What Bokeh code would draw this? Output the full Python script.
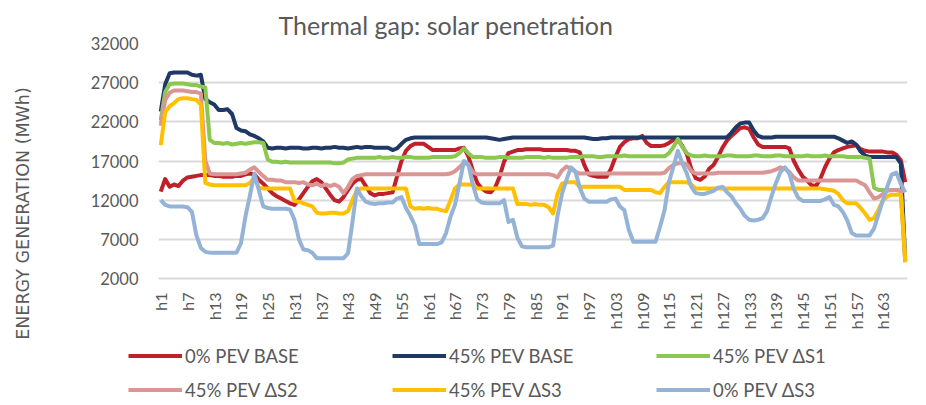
import math
from bokeh.plotting import figure
from bokeh.layouts import row, column
from bokeh.models import Range1d, FixedTicker, Legend, LegendItem, Label
from bokeh.embed import file_html
from bokeh.resources import INLINE

title_text = "Thermal gap: solar penetration"
y_title = "ENERGY GENERATION (MWh)"

hours = list(range(1, 169))
x_tick_hours = list(range(1, 169, 6))
x_tick_labels = ["h1", "h7", "h13", "h19", "h25", "h31", "h37", "h43", "h49", "h55",
                 "h61", "h67", "h73", "h79", "h85", "h91", "h97", "h103", "h109", "h115",
                 "h121", "h127", "h133", "h139", "h145", "h151", "h157", "h163"]
y_ticks = [2000, 7000, 12000, 17000, 22000, 27000, 32000]
y_tick_labels = ["2000", "7000", "12000", "17000", "22000", "27000", "32000"]

series_names = ["0% PEV BASE", "45% PEV BASE", "45% PEV ΔS1",
                "45% PEV ΔS2", "45% PEV ΔS3", "0% PEV ΔS3"]
series_colors = ["#C0202A", "#1F3864", "#8CC850", "#DA9694", "#FFC000", "#95B3D7"]

pev0_base = [
    13100, 14700, 13700, 14000, 13800, 14500, 14900, 15000, 15100, 15200, 15200, 15200,
    15100, 15100, 15000, 15000, 15000, 15100, 15100, 15300, 15400, 15300, 14600, 14100,
    13500, 12900, 12500, 12200, 11900, 11600, 11400, 12100, 12900, 13700, 14400, 14700,
    14300, 13500, 12700, 12000, 11800, 12400, 13300, 14100, 14600, 14700, 13800, 12900,
    12600, 12800, 12800, 12900, 13000, 15000, 17000, 18300, 18900, 19200, 19200, 19200,
    18800, 18400, 18400, 18400, 18400, 18400, 18400, 18600, 18700, 17600, 15800, 14200,
    13500, 13100, 13000, 13600, 15000, 16900, 18000, 18200, 18400, 18400, 18500, 18500,
    18500, 18500, 18400, 18400, 18400, 18400, 18400, 18400, 18300, 18300, 18100, 16500,
    15300, 15100, 15000, 15000, 15000, 16000, 17500, 18800, 19400, 19800, 19900, 19900,
    20200, 19300, 18900, 18900, 18900, 19000, 19300, 19700, 19800, 18900, 17900, 16000,
    14800, 14600, 15000, 16000, 16500, 17500, 18700, 19600, 20200, 20700, 21200, 21300,
    21100, 20000, 19100, 18800, 18800, 18800, 18800, 18800, 18800, 18600, 17000, 15900,
    15000, 14500, 13900, 13800, 14800, 16200, 17300, 18100, 18400, 18600, 18800, 18900,
    19000, 18500, 18300, 18200, 18200, 18200, 18200, 18100, 18100, 17800, 17100, 14300,
]

pev45_base = [
    23300, 26800, 28200, 28300, 28300, 28300, 28300, 28000, 27900, 28000, 24900, 24500,
    24200, 23500, 23500, 23600, 23000, 21200, 20900, 20800, 20400, 20200, 19900, 19500,
    18700, 18600, 18700, 18700, 18600, 18700, 18700, 18700, 18600, 18600, 18700, 18700,
    18600, 18700, 18700, 18800, 18700, 18700, 18600, 18700, 18800, 18700, 18800, 18800,
    18700, 18700, 18700, 18700, 18400, 18600, 19200, 19700, 19900, 20000, 20000, 20000,
    20000, 20000, 20000, 20000, 20000, 20000, 20000, 20000, 20000, 20000, 20000, 20000,
    20000, 20000, 19900, 19800, 19700, 19800, 19900, 20000, 20000, 20000, 20000, 20000,
    20000, 20000, 20000, 20000, 20000, 20000, 20000, 20000, 20000, 20000, 20000, 20000,
    19900, 19800, 19800, 19900, 19900, 20000, 20000, 20000, 20000, 20000, 20000, 20000,
    20000, 20000, 20000, 20000, 20000, 20000, 20000, 20000, 20000, 20000, 20000, 20000,
    20000, 20000, 20000, 20000, 20000, 20000, 20000, 20000, 20600, 21300, 21800, 21900,
    21900, 20900, 20200, 20000, 20000, 20000, 20100, 20100, 20100, 20100, 20100, 20100,
    20100, 20100, 20100, 20100, 20100, 20100, 20100, 20100, 19900, 19600, 19300, 19500,
    19100, 18200, 17700, 17500, 17500, 17500, 17500, 17500, 17500, 17500, 16700, 4300,
]

pev45_s1 = [
    22200, 25800, 26800, 26900, 26900, 26900, 26800, 26700, 26700, 26500, 26400, 19700,
    19300, 19300, 19200, 19300, 19100, 19200, 19300, 19200, 19300, 19400, 19400, 19300,
    17200, 16900, 16900, 16800, 16900, 16800, 16800, 16800, 16800, 16800, 16800, 16800,
    16800, 16800, 16800, 16700, 16700, 16800, 17200, 17300, 17400, 17400, 17400, 17400,
    17400, 17500, 17400, 17400, 17500, 17400, 17400, 17500, 17500, 17400, 17400, 17400,
    17400, 17500, 17500, 17500, 17500, 17500, 17600, 18000, 18600, 18000, 17500, 17500,
    17500, 17400, 17400, 17400, 17500, 17500, 17400, 17400, 17400, 17400, 17500, 17500,
    17500, 17500, 17400, 17500, 17400, 17400, 17400, 17400, 17500, 17500, 17500, 17600,
    17600, 17600, 17500, 17500, 17600, 17600, 17600, 17600, 17700, 17600, 17600, 17600,
    17600, 17600, 17600, 17600, 17600, 17600, 18000, 18800, 19800, 18800, 18000, 17700,
    17600, 17600, 17700, 17600, 17600, 17600, 17600, 17700, 17700, 17600, 17600, 17600,
    17600, 17700, 17700, 17600, 17600, 17600, 17700, 17700, 17600, 17600, 17600, 17600,
    17600, 17700, 17600, 17600, 17600, 17700, 17600, 17600, 17600, 17600, 17500, 17500,
    17500, 17500, 17400, 17300, 13600, 13300, 13300, 13300, 13300, 13300, 13200, 4100,
]

pev45_s2 = [
    21500, 24800, 25700, 26000, 26000, 26000, 25900, 25800, 25800, 25600, 17000, 15400,
    15300, 15300, 15300, 15300, 15300, 15300, 15400, 15500, 15900, 16200, 15600, 15100,
    14600, 14600, 14500, 14500, 14300, 14300, 14300, 14200, 14300, 14000, 13900, 14100,
    13800, 14000, 13800, 14000, 13700, 12900, 13700, 14700, 15100, 15200, 15300, 15300,
    15300, 15300, 15300, 15300, 15300, 15300, 15300, 15300, 15300, 15300, 15300, 15300,
    15300, 15300, 15300, 15300, 15300, 15400, 15700, 16200, 16800, 16500, 15600, 15300,
    15300, 15300, 15300, 15300, 15300, 15300, 15300, 15300, 15300, 15300, 15300, 15300,
    15300, 15300, 15300, 15300, 15200, 14900, 15800, 16300, 16000, 15600, 15400, 15400,
    15400, 15400, 15400, 15400, 15400, 15400, 15400, 15400, 15400, 15400, 15400, 15400,
    15400, 15400, 15400, 15400, 15400, 15500, 16100, 16500, 16700, 16700, 16600, 15700,
    15400, 15400, 15400, 15400, 15400, 15500, 15500, 15500, 15500, 15500, 15500, 15500,
    15500, 15500, 15500, 15500, 15600, 15700, 15900, 16200, 16000, 15600, 14900, 14500,
    14500, 14500, 14500, 14500, 14500, 14500, 14500, 14500, 14500, 14500, 14500, 14500,
    14500, 14200, 13900, 13000, 12200, 12400, 12800, 13200, 13300, 13300, 13200, 4100,
]

pev45_s3 = [
    19000, 23200, 24000, 24400, 24900, 25000, 25000, 24900, 24800, 24200, 14200, 14000,
    13900, 13900, 13900, 13900, 13900, 13900, 13900, 13900, 14200, 14800, 13600, 13500,
    13500, 13500, 13500, 13500, 13500, 13500, 11900, 11800, 11600, 11400, 11200, 10400,
    10300, 10300, 10400, 10400, 10300, 10300, 10600, 12000, 13300, 13500, 13500, 13500,
    13500, 13500, 13500, 13500, 13500, 13500, 13500, 13500, 11200, 10900, 11000, 10900,
    11000, 10900, 10900, 10700, 10600, 12000, 13500, 14000, 14000, 14000, 14000, 13500,
    13500, 13500, 13500, 13500, 13500, 13500, 13500, 13500, 11500, 11500, 11500, 11400,
    11500, 11400, 11400, 11100, 10300, 12800, 14100, 14300, 14300, 14300, 13700, 13700,
    13700, 13700, 13700, 13700, 13700, 13700, 13700, 13700, 13300, 13300, 13300, 13300,
    13300, 13300, 13300, 13000, 12900, 13700, 14300, 14300, 14300, 14300, 14300, 14000,
    13500, 13500, 13500, 13500, 13500, 13500, 13500, 13500, 13500, 13500, 13500, 13500,
    13500, 13500, 13500, 13500, 13500, 13500, 13500, 13500, 13500, 13500, 13500, 13500,
    13500, 13500, 13500, 13500, 13500, 13400, 13300, 13200, 12800, 12000, 11600, 11600,
    11600, 11000, 10300, 9500, 9700, 10800, 12000, 12500, 12700, 12700, 12700, 4080,
]

pev0_s3 = [
    12000, 11400, 11200, 11200, 11200, 11200, 11100, 10500, 7500, 5900, 5400, 5300,
    5300, 5300, 5300, 5300, 5300, 5300, 6500, 9900, 12600, 15400, 13300, 11200,
    11000, 10900, 10900, 10900, 10900, 10800, 9500, 7000, 5700, 5600, 5300, 4600,
    4600, 4600, 4600, 4600, 4600, 4600, 5200, 9200, 13500, 12500, 11800, 11600,
    11500, 11600, 11600, 11700, 11700, 12200, 12400, 11000, 10000, 8800, 6400, 6400,
    6400, 6400, 6400, 6600, 7800, 9900, 11400, 14100, 17000, 16600, 14000, 12100,
    11700, 11600, 11600, 11600, 11600, 12000, 9200, 9500, 7200, 6100, 6000, 6000,
    6000, 6000, 6000, 6000, 6200, 10000, 12800, 14600, 16200, 15700, 13600, 12200,
    11800, 11800, 11800, 11800, 11800, 12100, 12200, 11200, 10700, 8200, 6700, 6700,
    6700, 6700, 6700, 6700, 8600, 10700, 14300, 16300, 18300, 16700, 15400, 13700,
    12900, 12800, 12800, 13000, 13200, 13600, 13700, 13000, 12500, 11600, 10900, 10000,
    9500, 9400, 9500, 9700, 10600, 12500, 14200, 15600, 16200, 15400, 13400, 12300,
    11900, 11900, 11900, 11900, 11900, 12100, 12400, 11400, 11200, 10500, 9400, 7800,
    7500, 7500, 7500, 7500, 8400, 10200, 12000, 13800, 15300, 15500, 14100, 13000,
]

series_values = [pev0_base, pev45_base, pev45_s1, pev45_s2, pev45_s3, pev0_s3]

TEXT = "#595959"
GRID = "#d9d9d9"

CHART_H = 345
YT_W = 40

# ---------------- main chart ----------------
p = figure(width=926 - YT_W, height=CHART_H, output_backend="svg", toolbar_location=None,
           x_range=Range1d(0.5, 168.5), y_range=Range1d(2000, 32000),
           min_border_left=158 - YT_W, min_border_right=19, min_border_top=43,
           min_border_bottom=CHART_H - 278)
p.frame_align = False
p.outline_line_color = None
p.background_fill_color = "white"
p.border_fill_color = "white"

for name, col, vals in zip(series_names, series_colors, series_values):
    p.line(hours, vals, line_color=col, line_width=4, line_join="round")

p.title.text = title_text
p.title.align = "left"
p.title.offset = 120
p.title.text_font = "Lato"
p.title.text_font_size = "25px"
p.title.text_font_style = "normal"
p.title.text_color = TEXT
p.title.standoff = 8

p.xaxis.ticker = FixedTicker(ticks=x_tick_hours)
p.xaxis.major_label_overrides = {h: lab for h, lab in zip(x_tick_hours, x_tick_labels)}
p.xaxis.major_label_orientation = math.pi / 2
p.xaxis.major_label_text_font = "Lato"
p.xaxis.major_label_text_font_size = "16px"
p.xaxis.major_label_text_color = TEXT
p.xaxis.major_label_standoff = 14
p.xaxis.major_tick_out = 0
p.xaxis.major_tick_in = 0
p.xaxis.axis_line_color = GRID
p.xaxis.axis_line_width = 2
p.xaxis.major_tick_line_color = None
p.xaxis.minor_tick_line_color = None
p.xgrid.visible = False

p.yaxis.ticker = FixedTicker(ticks=y_ticks)
p.yaxis.major_label_overrides = {v: lab for v, lab in zip(y_ticks, y_tick_labels)}
p.yaxis.major_label_text_font = "Lato"
p.yaxis.major_label_text_font_size = "16.5px"
p.yaxis.major_label_text_color = TEXT
p.yaxis.major_label_standoff = 20
p.yaxis.major_tick_out = 0
p.yaxis.major_tick_in = 0
p.yaxis.axis_line_color = None
p.yaxis.major_tick_line_color = None
p.yaxis.minor_tick_line_color = None
p.ygrid.ticker = FixedTicker(ticks=y_ticks)
p.ygrid.grid_line_color = GRID
p.ygrid.grid_line_width = 2

# ---------------- y title strip ----------------
yt = figure(width=YT_W, height=CHART_H, output_backend="svg", toolbar_location=None,
            x_range=Range1d(0, 1), y_range=Range1d(0, 1),
            x_axis_location=None, y_axis_location=None, min_border=0)
yt.frame_align = False
yt.grid.visible = False
yt.outline_line_color = None
yt.add_layout(Label(x=22, y=CHART_H - 213, x_units="screen", y_units="screen",
                    text=y_title, text_font="DejaVu Sans", text_font_size="17.5px",
                    text_color=TEXT, text_align="center", text_baseline="middle",
                    angle=math.pi / 2))

# ---------------- legend strip ----------------
LEG_H = 405 - CHART_H
lg = figure(width=926, height=LEG_H, output_backend="svg", toolbar_location=None,
            x_range=Range1d(0, 1), y_range=Range1d(0, 1),
            x_axis_location=None, y_axis_location=None, min_border=0)
lg.frame_align = False
lg.grid.visible = False
lg.outline_line_color = None
# same series drawn here only to feed the legend swatches (they fall outside this strip's ranges)
swatches = [lg.line(hours, vals, line_color=c, line_width=4)
            for c, vals in zip(series_colors, series_values)]
legend = Legend(items=[LegendItem(label=n, renderers=[r]) for n, r in zip(series_names, swatches)],
                location=(128, LEG_H - 55.5), orientation="horizontal", ncols=3,
                glyph_width=54, glyph_height=21, label_height=21, label_width=195,
                label_standoff=3, spacing=12, padding=0, margin=0,
                label_text_font="Lato", label_text_font_size="18.5px",
                label_text_color=TEXT, background_fill_alpha=0, border_line_alpha=0)
lg.add_layout(legend)

layout = column(row(yt, p), lg)
open("out.html", "w").write(file_html(layout, INLINE))
